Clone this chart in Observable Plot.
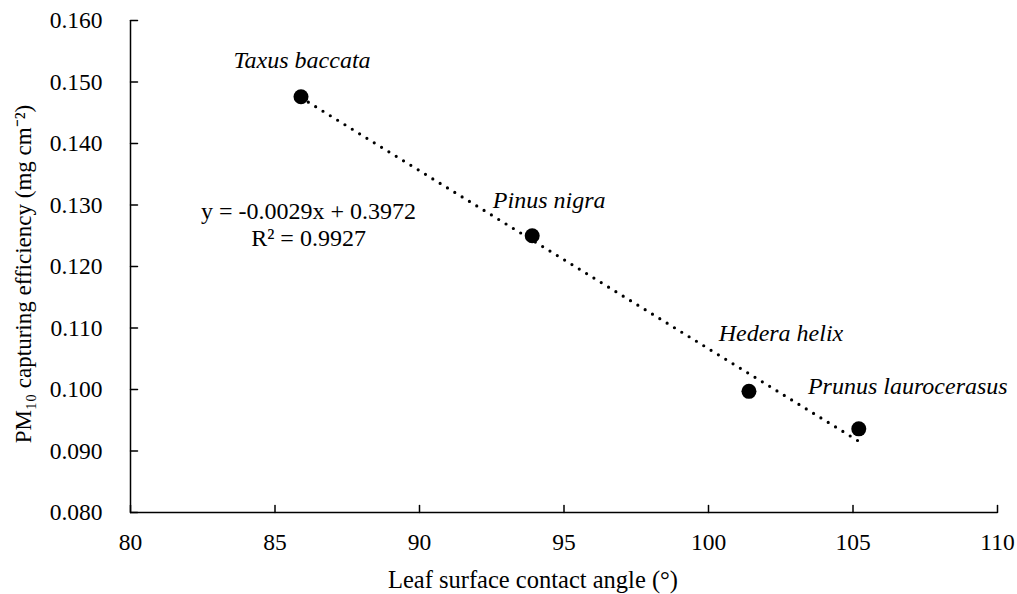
<!DOCTYPE html>
<html>
<head>
<meta charset="utf-8">
<script src="https://cdn.jsdelivr.net/npm/d3@7"></script>
<script src="https://cdn.jsdelivr.net/npm/@observablehq/plot@0.6"></script>
<style>
  html, body { margin: 0; padding: 0; background: white; }
</style>
</head>
<body>
<div id="chart"></div>
<script>
const species = ["Taxus baccata", "Pinus nigra", "Hedera helix", "Prunus laurocerasus"];
const contactAngle = [85.9, 93.9, 101.4, 105.2];
const pm10 = [0.1476, 0.1250, 0.0997, 0.0936];
const xTicks = [80, 85, 90, 95, 100, 105, 110];
const yTicks = [0.080, 0.090, 0.100, 0.110, 0.120, 0.130, 0.140, 0.150, 0.160];
const equationText = "y = -0.0029x + 0.3972\nR² = 0.9927";
const xTitle = "Leaf surface contact angle (°)";
const yTitle = "PM₁₀ capturing efficiency (mg cm⁻²)";

const data = species.map((s, i) => ({species: s, angle: contactAngle[i], pm10: pm10[i]}));

const font = "Liberation Serif";
const tickShape = {draw(context, l) { context.moveTo(0, 0); context.lineTo(0, -l); }};

const labelOffsets = [[1, -36], [17, -35], [32, -58], [49, -43]];

const chart = Plot.plot({
  width: 1017,
  height: 594,
  marginLeft: 130,
  marginRight: 20,
  marginTop: 20,
  marginBottom: 82,
  style: {fontFamily: font, fontSize: "23.5px", color: "black", background: "white", overflow: "visible"},
  x: {domain: [80, 110]},
  y: {domain: [0.08, 0.16]},
  marks: [
    Plot.axisX({ticks: xTicks, tickSize: 0, tickPadding: 21, tickFormat: d => String(d), label: null, fontSize: 23.5}),
    Plot.axisY({ticks: yTicks, tickSize: 0, tickPadding: 28, tickFormat: d3.format(".3f"), label: null, fontSize: 23.5}),
    Plot.vector(xTicks, {x: d => d, y: 0.08, length: 7, anchor: "start", rotate: 0, shape: tickShape, stroke: "black", strokeWidth: 1.5}),
    Plot.vector(yTicks, {x: 80, y: d => d, length: 7, anchor: "start", rotate: 90, shape: tickShape, stroke: "black", strokeWidth: 1.5}),
    Plot.ruleY([0.08], {stroke: "black", strokeWidth: 1.5}),
    Plot.ruleX([80], {stroke: "black", strokeWidth: 1.5}),
    Plot.linearRegressionY(data, {x: "angle", y: "pm10", ci: 0, stroke: "black", strokeWidth: 3.2, strokeDasharray: "0 8.6", strokeLinecap: "round"}),
    Plot.dot(data, {x: "angle", y: "pm10", r: 7.5, fill: "black"}),
    ...labelOffsets.map(([dx, dy], i) => Plot.text([data[i]], {x: "angle", y: "pm10", text: "species", dx, dy, fontFamily: "Liberation Serif", fontStyle: "italic", fontSize: 24, fill: "black"})),
    Plot.text([equationText], {x: 86.16, y: 0.1269, text: d => d, fontSize: 24, lineHeight: 1.125, fill: "black"}),
    Plot.text([xTitle], {frameAnchor: "bottom", dx: -31, dy: 68, lineAnchor: "middle", textAnchor: "middle", text: d => d, fontSize: 24.5, fill: "black"}),
    Plot.text([yTitle], {frameAnchor: "left", rotate: -90, dx: -107, dy: 7.5, lineAnchor: "middle", textAnchor: "middle", text: d => d, fontSize: 23, fill: "black"})
  ]
});
document.getElementById("chart").appendChild(chart);
</script>
</body>
</html>
